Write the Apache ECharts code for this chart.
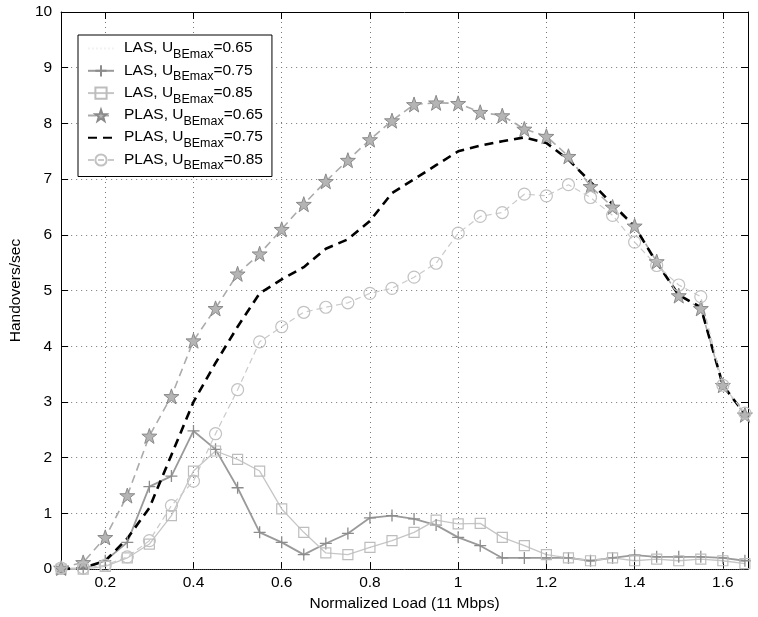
<!DOCTYPE html>
<html>
<head>
<meta charset="utf-8">
<script src="https://cdn.jsdelivr.net/npm/echarts@6/dist/echarts.min.js"></script>
<style>
html,body{margin:0;padding:0;background:#fff;}
#chart{width:758px;height:617px;}
</style>
</head>
<body>
<div id="chart"></div>
<script>
// ---- data ----
var loads = [0.1,0.15,0.2,0.25,0.3,0.35,0.4,0.45,0.5,0.55,0.6,0.65,0.7,0.75,0.8,0.85,0.9,0.95,1.0,1.05,1.1,1.15,1.2,1.25,1.3,1.35,1.4,1.45,1.5,1.55,1.6,1.65];
var las065  = [0,0,0,0,0,0,0,0,0,0,0,0,0,0,0,0,0,0,0,0,0,0,0,0,0,0,0,0,0,0,0,0];
var las075  = [0,0,0.15,0.48,1.48,1.67,2.48,2.15,1.46,0.66,0.48,0.26,0.46,0.64,0.92,0.96,0.9,0.79,0.57,0.42,0.2,0.2,0.2,0.2,0.15,0.2,0.25,0.22,0.22,0.22,0.2,0.15];
var las085  = [0,0,0.05,0.2,0.45,0.96,1.76,2.12,1.97,1.76,1.08,0.66,0.29,0.26,0.39,0.51,0.66,0.88,0.81,0.82,0.57,0.42,0.26,0.2,0.15,0.2,0.15,0.18,0.15,0.18,0.15,0.1];
var plas065 = [0.02,0.12,0.57,1.32,2.39,3.1,4.1,4.68,5.3,5.66,6.1,6.55,6.96,7.34,7.71,8.05,8.34,8.37,8.36,8.2,8.14,7.9,7.77,7.41,6.87,6.5,6.16,5.52,4.91,4.68,3.3,2.77];
var plas075 = [0,0.02,0.15,0.55,1.1,2.05,3.0,3.7,4.35,4.95,5.2,5.42,5.75,5.92,6.25,6.75,7.0,7.25,7.5,7.6,7.68,7.75,7.65,7.35,6.95,6.55,6.15,5.5,4.92,4.7,3.3,2.78];
var plas085 = [0.02,0.02,0.07,0.22,0.51,1.14,1.58,2.43,3.22,4.08,4.35,4.61,4.7,4.78,4.95,5.04,5.24,5.49,6.03,6.33,6.4,6.73,6.7,6.9,6.67,6.35,5.87,5.45,5.1,4.89,3.3,2.8];
var seriesNames = ['LAS, U_BEmax=0.65','LAS, U_BEmax=0.75','LAS, U_BEmax=0.85','PLAS, U_BEmax=0.65','PLAS, U_BEmax=0.75','PLAS, U_BEmax=0.85'];
var xTickValues = [0.2,0.4,0.6,0.8,1.0,1.2,1.4,1.6];
var xTickLabels = ['0.2','0.4','0.6','0.8','1','1.2','1.4','1.6'];
var yTickLabels = ['0','1','2','3','4','5','6','7','8','9','10'];

function pairs(vals){ return loads.map(function(x,i){ return [x, vals[i]]; }); }

var FONT = 'Liberation Sans, Arial, Helvetica, sans-serif';
var STAR = 'path://M10,0 L12.35,6.76 L19.51,6.91 L13.80,11.24 L15.88,18.09 L10,14 L4.12,18.09 L6.20,11.24 L0.49,6.91 L7.65,6.76 Z';
var PLUS = 'path://M0,5 L10,5 M5,0 L5,10';
var CLEAR = 'rgba(0,0,0,0)';

var chart = echarts.init(document.getElementById('chart'), null, {renderer:'canvas'});

function legendFmt(name){
  var m = name.match(/^(.*)U_BEmax(.*)$/);
  return '{f|' + m[1] + 'U}{s|BEmax}{m|' + m[2] + '}';
}

var option = {
  backgroundColor:'#fff',
  animation:false,
  textStyle:{fontFamily:FONT},
  grid:{left:58, right:10, top:12, bottom:45, containLabel:false},
  legend:{
    orient:'vertical', left:78, top:35,
    padding:[5,9,4,9],
    itemWidth:26, itemHeight:14, itemGap:1.3,
    backgroundColor:'#fff', borderColor:'#000', borderWidth:1, borderRadius:0,
    data:seriesNames,
    formatter:legendFmt,
    textStyle:{
      color:'#000', fontFamily:FONT, fontSize:15.5,
      rich:{
        f:{fontSize:15.5, fontFamily:FONT, color:'#000', verticalAlign:'top', lineHeight:17, padding:[0,0,0,5]},
        m:{fontSize:15.5, fontFamily:FONT, color:'#000', verticalAlign:'top', lineHeight:17},
        s:{fontSize:12.5, fontFamily:FONT, color:'#000', verticalAlign:'top', padding:[8,0,0,0], lineHeight:17}
      }
    }
  },
  xAxis:[{
    type:'value', min:0.1, max:1.657, position:'bottom',
    name:'Normalized Load (11 Mbps)', nameLocation:'middle', nameGap:23,
    nameTextStyle:{color:'#000', fontSize:15.5, fontFamily:FONT},
    axisLine:{show:true, onZero:false, lineStyle:{color:'#000', width:1}},
    axisTick:{show:true, inside:true, length:7, customValues:xTickValues, lineStyle:{color:'#000'}},
    axisLabel:{show:true, customValues:xTickValues, color:'#000', fontSize:15.5, fontFamily:FONT, margin:6,
      formatter:function(v){ var i = xTickValues.findIndex(function(t){return Math.abs(t-v)<1e-6;}); return i>=0?xTickLabels[i]:''; }},
    splitLine:{show:true, lineStyle:{color:'#777', type:[1,4], width:1}}
  },{
    type:'value', min:0.1, max:1.657, position:'top',
    axisLine:{show:true, onZero:false, lineStyle:{color:'#000', width:1}},
    axisTick:{show:true, inside:true, length:7, customValues:xTickValues, lineStyle:{color:'#000'}},
    axisLabel:{show:false},
    splitLine:{show:false}
  }],
  yAxis:[{
    type:'value', min:0, max:10, interval:1, position:'left',
    name:'Handovers/sec', nameLocation:'middle', nameGap:30,
    nameTextStyle:{color:'#000', fontSize:15.5, fontFamily:FONT},
    axisLine:{show:true, onZero:false, lineStyle:{color:'#000', width:1}},
    axisTick:{show:true, inside:true, length:7, lineStyle:{color:'#000'}},
    axisLabel:{color:'#000', fontSize:15.5, fontFamily:FONT, margin:9,
      formatter:function(v){ return yTickLabels[Math.round(v)]; }},
    splitLine:{show:true, lineStyle:{color:'#777', type:[1,4], width:1}}
  },{
    type:'value', min:0, max:10, interval:1, position:'right',
    axisLine:{show:true, onZero:false, lineStyle:{color:'#000', width:1}},
    axisTick:{show:true, inside:true, length:7, lineStyle:{color:'#000'}},
    axisLabel:{show:false},
    splitLine:{show:false}
  }],
  series:[
    {name:seriesNames[0], type:'line', data:pairs(las065), symbol:'circle', showSymbol:false,
      lineStyle:{color:'#f2f2f2', width:1, type:'dotted'}, itemStyle:{color:CLEAR}},
    {name:seriesNames[1], type:'line', data:pairs(las075), symbol:PLUS, symbolSize:12, showAllSymbol:true,
      lineStyle:{color:'#9a9a9a', width:1.8},
      itemStyle:{color:CLEAR, borderColor:'#8c8c8c', borderWidth:1.3}},
    {name:seriesNames[2], type:'line', data:pairs(las085), symbol:'rect', symbolSize:10, showAllSymbol:true,
      lineStyle:{color:'#c6c6c6', width:1.3},
      itemStyle:{color:CLEAR, borderColor:'#bdbdbd', borderWidth:1.2}},
    {name:seriesNames[3], type:'line', data:pairs(plas065), symbol:STAR, symbolSize:15, showAllSymbol:true,
      lineStyle:{color:'#ababab', width:1.6, type:[8,5]},
      itemStyle:{color:'#b4b4b4', borderColor:'#8a8a8a', borderWidth:1}},
    {name:seriesNames[4], type:'line', data:pairs(plas075), symbol:'circle', showSymbol:false,
      lineStyle:{color:'#000', width:2.6, type:[9,6]}, itemStyle:{color:CLEAR}},
    {name:seriesNames[5], type:'line', data:pairs(plas085), symbol:'circle', symbolSize:12, showAllSymbol:true,
      lineStyle:{color:'#cacaca', width:1.2, type:[6,4]},
      itemStyle:{color:CLEAR, borderColor:'#c2c2c2', borderWidth:1.2}}
  ]
};
chart.setOption(option);
</script>
</body>
</html>
